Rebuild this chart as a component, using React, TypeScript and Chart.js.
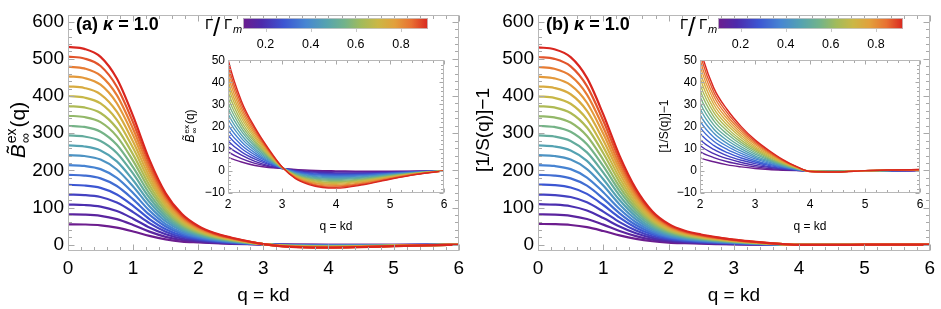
import React, { useEffect, useRef } from "react";
import { Chart, registerables } from "chart.js";

Chart.register(...registerables);

const FONT = '"Liberation Sans", Arial, Helvetica, sans-serif';

// wave number grid q = kd
const Q = [0, 0.25, 0.5, 0.75, 1, 1.25, 1.5, 1.75, 2, 2.25, 2.5, 2.75, 3, 3.25, 3.5, 3.75, 4, 4.5, 5, 5.5, 6];

// coupling ratios Γ/Γm of the 19 curves (colour order)
const GAMMA_RATIO = [0.1, 0.15, 0.2, 0.25, 0.3, 0.35, 0.4, 0.45, 0.5, 0.55, 0.6, 0.65, 0.7, 0.75, 0.8, 0.85, 0.9, 0.95, 1.0];

// Panel (a): bridge function B~ex_inf(q)
const A_G00 = [55, 54.5, 52.3, 46.2, 35.8, 23.7, 14.3, 8.5, 6.1, 4.0, 2.4, 1.5, 1.1, 0.6, 0.3, 0.1, 0, -0.2, -0.2, -0.1, 0];
const A_G01 = [82, 81.2, 77.9, 68.9, 53.3, 35.3, 21.3, 12.7, 8.6, 5.5, 3.4, 2.0, 1.1, 0.4, -0.1, -0.3, -0.4, -0.5, -0.4, -0.2, 0];
const A_G02 = [108, 106.9, 102.6, 90.7, 70.2, 46.4, 28.1, 16.7, 11.0, 7.1, 4.3, 2.4, 1.2, 0.1, -0.4, -0.7, -0.9, -0.9, -0.6, -0.3, 0];
const A_G03 = [135, 133.7, 128.3, 113.4, 87.8, 58.1, 35.1, 20.9, 13.5, 8.6, 5.3, 2.9, 1.2, -0.1, -0.8, -1.2, -1.3, -1.2, -0.8, -0.4, 0];
const A_G04 = [161, 159.4, 153.0, 135.2, 104.7, 69.2, 41.9, 25.0, 16.0, 10.1, 6.2, 3.4, 1.3, -0.3, -1.2, -1.6, -1.7, -1.6, -1.0, -0.4, 0];
const A_G05 = [188, 186.1, 178.6, 157.9, 122.2, 80.8, 48.9, 29.1, 18.4, 11.6, 7.2, 3.9, 1.3, -0.5, -1.5, -2.0, -2.2, -1.9, -1.2, -0.5, 0];
const A_G06 = [214, 211.9, 203.3, 179.8, 139.1, 92.0, 55.6, 33.2, 20.9, 13.2, 8.1, 4.3, 1.3, -0.8, -1.9, -2.4, -2.6, -2.2, -1.4, -0.6, 0];
const A_G07 = [241, 238.6, 229.0, 202.4, 156.7, 103.6, 62.7, 37.4, 23.4, 14.7, 9.1, 4.8, 1.4, -1.0, -2.2, -2.9, -3.0, -2.6, -1.6, -0.7, 0];
const A_G08 = [267, 264.3, 253.7, 224.3, 173.6, 114.8, 69.4, 41.4, 25.8, 16.2, 10.0, 5.3, 1.4, -1.2, -2.6, -3.3, -3.5, -2.9, -1.8, -0.8, 0];
const A_G09 = [294, 291.1, 279.3, 247.0, 191.1, 126.4, 76.4, 45.6, 28.3, 17.8, 11.0, 5.7, 1.4, -1.5, -3.0, -3.7, -3.9, -3.3, -2.0, -0.9, 0];
const A_G10 = [320, 316.8, 304.0, 268.8, 208.0, 137.6, 83.2, 49.6, 30.8, 19.3, 11.9, 6.2, 1.5, -1.7, -3.3, -4.1, -4.3, -3.6, -2.2, -0.9, 0];
const A_G11 = [347, 343.5, 329.7, 291.5, 225.6, 149.2, 90.2, 53.8, 33.2, 20.8, 12.9, 6.7, 1.5, -1.9, -3.7, -4.5, -4.8, -3.9, -2.4, -1.0, 0];
const A_G12 = [373, 369.3, 354.4, 313.3, 242.5, 160.4, 97.0, 57.8, 35.7, 22.3, 13.8, 7.2, 1.6, -2.1, -4.0, -5.0, -5.2, -4.3, -2.6, -1.1, 0];
const A_G13 = [400, 396.0, 380.0, 336.0, 260.0, 172.0, 104.0, 62.0, 38.2, 23.9, 14.8, 7.6, 1.6, -2.4, -4.4, -5.4, -5.6, -4.6, -2.8, -1.2, 0];
const A_G14 = [426, 421.7, 404.7, 357.8, 276.9, 183.2, 110.8, 66.0, 40.6, 25.4, 15.7, 8.1, 1.6, -2.6, -4.8, -5.8, -6.1, -4.9, -3.0, -1.3, 0];
const A_G15 = [453, 448.5, 430.4, 380.5, 294.5, 194.8, 117.8, 70.2, 43.1, 26.9, 16.7, 8.6, 1.7, -2.8, -5.1, -6.2, -6.5, -5.3, -3.2, -1.4, 0];
const A_G16 = [479, 474.2, 455.0, 402.4, 311.4, 206.0, 124.5, 74.2, 45.6, 28.4, 17.6, 9.1, 1.7, -3.0, -5.5, -6.7, -6.9, -5.6, -3.4, -1.4, 0];
const A_G17 = [506, 500.9, 480.7, 425.0, 328.9, 217.6, 131.6, 78.4, 48.0, 30.0, 18.6, 9.5, 1.8, -3.3, -5.8, -7.1, -7.4, -6.0, -3.6, -1.5, 0];
const A_G18 = [532, 526.7, 505.4, 446.9, 345.8, 228.8, 138.3, 82.5, 50.5, 31.5, 19.5, 10.0, 1.8, -3.5, -6.2, -7.5, -7.8, -6.3, -3.8, -1.6, 0];

// Panel (b): [1/S(q)] - 1
const B_G00 = [56, 55.4, 53.2, 47.3, 37.0, 25.2, 15.8, 9.5, 5.9, 4.1, 2.7, 1.8, 1.1, 0.6, 0.3, 0.1, 0, 0, 0, 0, 0.1];
const B_G01 = [82, 81.2, 77.9, 69.3, 54.1, 36.9, 23.2, 13.9, 8.7, 6.0, 4.1, 2.8, 1.8, 1.1, 0.6, 0.2, 0, 0, 0, 0, 0.1];
const B_G02 = [109, 107.9, 103.6, 92.1, 71.9, 49.1, 30.8, 18.5, 11.5, 7.8, 5.5, 3.8, 2.5, 1.6, 0.8, 0.3, 0, -0.1, 0, 0, 0.2];
const B_G03 = [135, 133.7, 128.3, 114.1, 89.1, 60.8, 38.2, 23.0, 14.2, 9.7, 6.8, 4.8, 3.3, 2.0, 1.1, 0.4, -0.1, -0.1, 0, 0.1, 0.2];
const B_G04 = [162, 160.4, 153.9, 136.9, 106.9, 72.9, 45.8, 27.5, 17.0, 11.5, 8.2, 5.8, 4.0, 2.5, 1.4, 0.5, -0.1, -0.1, 0, 0.1, 0.2];
const B_G05 = [188, 186.1, 178.6, 158.9, 124.1, 84.6, 53.2, 32.0, 19.8, 13.4, 9.6, 6.9, 4.7, 3.0, 1.7, 0.6, -0.1, -0.1, 0, 0.1, 0.2];
const B_G06 = [214, 211.9, 203.3, 180.8, 141.2, 96.3, 60.6, 36.4, 22.6, 15.2, 11.0, 7.9, 5.4, 3.5, 1.9, 0.7, -0.1, -0.2, 0, 0.1, 0.3];
const B_G07 = [241, 238.6, 229.0, 203.6, 159.1, 108.5, 68.2, 41.0, 25.4, 17.1, 12.3, 8.9, 6.1, 4.0, 2.2, 0.8, -0.1, -0.2, 0, 0.2, 0.3];
const B_G08 = [267, 264.3, 253.7, 225.6, 176.2, 120.2, 75.6, 45.4, 28.2, 18.9, 13.7, 9.9, 6.8, 4.5, 2.5, 0.9, -0.1, -0.2, 0, 0.2, 0.3];
const B_G09 = [294, 291.1, 279.3, 248.4, 194.0, 132.3, 83.2, 50.0, 30.9, 20.8, 15.1, 10.9, 7.6, 5.0, 2.7, 1.1, -0.2, -0.3, 0, 0.2, 0.4];
const B_G10 = [320, 316.8, 304.0, 270.4, 211.2, 144.0, 90.6, 54.4, 33.7, 22.7, 16.5, 11.9, 8.3, 5.4, 3.0, 1.2, -0.2, -0.3, 0.1, 0.2, 0.4];
const B_G11 = [346, 342.5, 328.7, 292.4, 228.4, 155.7, 97.9, 58.8, 36.5, 24.5, 17.9, 12.9, 9.0, 5.9, 3.3, 1.3, -0.2, -0.3, 0.1, 0.2, 0.4];
const B_G12 = [373, 369.3, 354.4, 315.2, 246.2, 167.9, 105.6, 63.4, 39.3, 26.4, 19.2, 13.9, 9.7, 6.4, 3.6, 1.4, -0.2, -0.3, 0.1, 0.3, 0.4];
const B_G13 = [399, 395.0, 379.1, 337.2, 263.3, 179.6, 112.9, 67.8, 42.1, 28.2, 20.6, 15.0, 10.4, 6.9, 3.8, 1.5, -0.2, -0.4, 0.1, 0.3, 0.5];
const B_G14 = [426, 421.7, 404.7, 360.0, 281.2, 191.7, 120.6, 72.4, 44.9, 30.1, 22.0, 16.0, 11.1, 7.4, 4.1, 1.6, -0.2, -0.4, 0.1, 0.3, 0.5];
const B_G15 = [452, 447.5, 429.4, 381.9, 298.3, 203.4, 127.9, 76.8, 47.6, 31.9, 23.4, 17.0, 11.9, 7.9, 4.4, 1.7, -0.2, -0.4, 0.1, 0.3, 0.5];
const B_G16 = [478, 473.2, 454.1, 403.9, 315.5, 215.1, 135.3, 81.3, 50.4, 33.8, 24.7, 18.0, 12.6, 8.3, 4.7, 1.8, -0.3, -0.4, 0.1, 0.4, 0.5];
const B_G17 = [505, 500.0, 479.8, 426.7, 333.3, 227.3, 142.9, 85.9, 53.2, 35.6, 26.1, 19.0, 13.3, 8.8, 4.9, 1.9, -0.3, -0.5, 0.1, 0.4, 0.6];
const B_G18 = [531, 525.7, 504.5, 448.7, 350.5, 239.0, 150.3, 90.3, 56.0, 37.5, 27.5, 20.0, 14.0, 9.3, 5.2, 2.0, -0.3, -0.5, 0.1, 0.4, 0.6];

const PANEL_A = [A_G00, A_G01, A_G02, A_G03, A_G04, A_G05, A_G06, A_G07, A_G08, A_G09, A_G10, A_G11, A_G12, A_G13, A_G14, A_G15, A_G16, A_G17, A_G18];
const PANEL_B = [B_G00, B_G01, B_G02, B_G03, B_G04, B_G05, B_G06, B_G07, B_G08, B_G09, B_G10, B_G11, B_G12, B_G13, B_G14, B_G15, B_G16, B_G17, B_G18];

const MAIN_X_TICKS = [0, 1, 2, 3, 4, 5, 6];
const MAIN_Y_TICKS = [0, 100, 200, 300, 400, 500, 600];
const INSET_X_TICKS = [2, 3, 4, 5, 6];
const INSET_Y_TICKS = [-10, 0, 10, 20, 30, 40, 50];
const CBAR_TICKS = [0.2, 0.4, 0.6, 0.8];
const CBAR_MIN = 0.1;
const CBAR_MAX = 0.92;

const COLOR_STOPS: [number, string][] = [
  [0, "#6c1d8e"],
  [0.1, "#4d2aab"],
  [0.22, "#3c55d2"],
  [0.34, "#4786d2"],
  [0.45, "#55a3b0"],
  [0.55, "#72b38a"],
  [0.64, "#a2bb5a"],
  [0.73, "#cbb745"],
  [0.82, "#e2a03c"],
  [0.91, "#e87132"],
  [1, "#d9261f"],
];

function hexRgb(h: string) {
  return [parseInt(h.slice(1, 3), 16), parseInt(h.slice(3, 5), 16), parseInt(h.slice(5, 7), 16)];
}
function colorAt(t: number) {
  for (let i = 1; i < COLOR_STOPS.length; i++) {
    const [t1, c1] = COLOR_STOPS[i];
    const [t0, c0] = COLOR_STOPS[i - 1];
    if (t <= t1) {
      const f = (t - t0) / (t1 - t0);
      const a = hexRgb(c0), b = hexRgb(c1);
      return `rgb(${a.map((v, j) => Math.round(v + (b[j] - v) * f)).join(",")})`;
    }
  }
  return COLOR_STOPS[COLOR_STOPS.length - 1][1];
}

function fmt(v: number) {
  return v < 0 ? "\u2212" + Math.abs(v) : String(v);
}

function minorValues(min: number, max: number, step: number, majors: number[]) {
  const out: number[] = [];
  const start = Math.ceil(min / step - 1e-9);
  for (let i = start; i * step <= max + 1e-9; i++) {
    const v = i * step;
    if (!majors.some((m) => Math.abs(m - v) < step / 10)) out.push(v);
  }
  return out;
}

function framePlugin(id: string, f: any) {
  return {
    id,
    afterDatasetsDraw(chart: any) {
      const { ctx, chartArea: a } = chart;
      const sx = chart.scales.x, sy = chart.scales.y;
      const L = Math.round(a.left) + 0.5, R = Math.round(a.right) - 0.5;
      const T = Math.round(a.top) + 0.5, B = Math.round(a.bottom) - 0.5;
      ctx.save();
      ctx.lineWidth = 1;
      ctx.strokeStyle = f.tickColor;
      ctx.beginPath();
      const xs: [number, number][] = [
        ...f.xTicks.map((v: number) => [v, f.major] as [number, number]),
        ...minorValues(sx.min, sx.max, f.xMinor, f.xTicks).map((v) => [v, f.minor] as [number, number]),
      ];
      xs.forEach(([v, len]) => {
        const p = Math.round(sx.getPixelForValue(v)) + 0.5;
        ctx.moveTo(p, B); ctx.lineTo(p, B - len);
        ctx.moveTo(p, T); ctx.lineTo(p, T + len);
      });
      const ys: [number, number][] = [
        ...f.yTicks.map((v: number) => [v, f.major] as [number, number]),
        ...minorValues(sy.min, sy.max, f.yMinor, f.yTicks).map((v) => [v, f.minor] as [number, number]),
      ];
      ys.forEach(([v, len]) => {
        const p = Math.round(sy.getPixelForValue(v)) + 0.5;
        ctx.moveTo(L, p); ctx.lineTo(L + len, p);
        ctx.moveTo(R, p); ctx.lineTo(R - len, p);
      });
      ctx.stroke();
      ctx.strokeStyle = f.frameColor;
      ctx.strokeRect(L, T, R - L, B - T);
      ctx.restore();
    },
  };
}

function textPlugin(id: string, draw: (ctx: CanvasRenderingContext2D, a: any) => void) {
  return {
    id,
    afterDraw(chart: any) {
      const ctx = chart.ctx;
      ctx.save();
      draw(ctx, chart.chartArea);
      ctx.restore();
    },
  };
}

function drawBTitle(ctx: CanvasRenderingContext2D, x: number, y: number, size: number) {
  ctx.save();
  ctx.translate(x, y);
  ctx.rotate(-Math.PI / 2);
  ctx.fillStyle = "#000";
  ctx.textBaseline = "alphabetic";
  ctx.textAlign = "left";
  const big = `${size}px ${FONT}`;
  const bigIt = `italic ${size}px ${FONT}`;
  const small = `${Math.round(size * 0.66)}px ${FONT}`;
  ctx.font = bigIt;
  const wB = ctx.measureText("B").width;
  ctx.font = big;
  const wQ = ctx.measureText("(q)").width;
  ctx.font = small;
  const wS = Math.max(ctx.measureText("ex").width, ctx.measureText("\u221e").width);
  const total = wB + 1 + wS + 1 + wQ;
  let cx = -total / 2;
  ctx.font = bigIt;
  ctx.fillText("B", cx, 0);
  ctx.font = big;
  const tw = ctx.measureText("\u02dc").width;
  ctx.fillText("\u02dc", cx + (wB - tw) / 2 + size * 0.08, -size * 0.2);
  cx += wB + 1;
  ctx.font = small;
  ctx.fillText("ex", cx, -size * 0.42);
  ctx.fillText("\u221e", cx, size * 0.22);
  cx += wS + 1;
  ctx.font = big;
  ctx.fillText("(q)", cx, 0);
  ctx.restore();
}

function drawRotText(ctx: CanvasRenderingContext2D, text: string, x: number, y: number, size: number) {
  ctx.save();
  ctx.translate(x, y);
  ctx.rotate(-Math.PI / 2);
  ctx.fillStyle = "#000";
  ctx.font = `${size}px ${FONT}`;
  ctx.textAlign = "center";
  ctx.textBaseline = "alphabetic";
  ctx.fillText(text, 0, 0);
  ctx.restore();
}

function drawPanelLabel(ctx: CanvasRenderingContext2D, letter: string, x: number, y: number) {
  ctx.fillStyle = "#000";
  ctx.textBaseline = "alphabetic";
  ctx.textAlign = "left";
  const size = 18;
  let cx = x;
  ctx.font = `bold ${size}px ${FONT}`;
  const p1 = `(${letter}) `;
  ctx.fillText(p1, cx, y);
  cx += ctx.measureText(p1).width;
  ctx.font = `italic bold ${size}px ${FONT}`;
  ctx.fillText("\u03ba", cx, y);
  cx += ctx.measureText("\u03ba").width;
  ctx.font = `bold ${size}px ${FONT}`;
  ctx.fillText(" = 1.0", cx, y);
}

type PlotSpec = {
  series: number[][];
  xMin: number; xMax: number; yMin: number; yMax: number;
  xTicks: number[]; yTicks: number[]; xMinor: number; yMinor: number;
  lineWidth: number; tickSize: number;
  pad: { left: number; right: number; top: number; bottom: number };
  yAxisW: number; xAxisH: number; xTickPad: number; yTickPad: number;
  major: number; minor: number; clip: any;
  draw: (ctx: CanvasRenderingContext2D, a: any) => void;
  name: string;
};

function makePlot(canvas: HTMLCanvasElement, s: PlotSpec) {
  const n = s.series.length;
  const datasets = s.series
    .map((ys, k) => ({
      label: "\u0393/\u0393m = " + GAMMA_RATIO[k],
      data: Q.map((x, i) => ({ x, y: ys[i] })),
      borderColor: colorAt(k / (n - 1)),
      backgroundColor: colorAt(k / (n - 1)),
      borderWidth: s.lineWidth,
      pointRadius: 0,
      cubicInterpolationMode: "monotone",
      fill: false,
      clip: s.clip,
    }))
    .reverse();
  return new Chart(canvas, {
    type: "line",
    data: { datasets } as any,
    options: {
      animation: false,
      responsive: false,
      maintainAspectRatio: false,
      devicePixelRatio: 1,
      events: [],
      layout: { padding: s.pad },
      plugins: { legend: { display: false }, tooltip: { enabled: false } },
      scales: {
        x: {
          type: "linear",
          min: s.xMin,
          max: s.xMax,
          afterBuildTicks: (sc: any) => { sc.ticks = s.xTicks.map((v) => ({ value: v })); },
          afterFit: (sc: any) => { sc.height = s.xAxisH; },
          grid: { display: false, drawTicks: false },
          border: { display: false },
          ticks: { font: { family: FONT, size: s.tickSize }, color: "#000", padding: s.xTickPad, maxRotation: 0, autoSkip: false, callback: (v: any) => fmt(v) },
        },
        y: {
          type: "linear",
          min: s.yMin,
          max: s.yMax,
          afterBuildTicks: (sc: any) => { sc.ticks = s.yTicks.map((v) => ({ value: v })); },
          afterFit: (sc: any) => { sc.width = s.yAxisW; },
          grid: { display: false, drawTicks: false },
          border: { display: false },
          ticks: { font: { family: FONT, size: s.tickSize }, color: "#000", padding: s.yTickPad, autoSkip: false, callback: (v: any) => fmt(v) },
        },
      },
    } as any,
    plugins: [
      framePlugin("frame_" + s.name, { xTicks: s.xTicks, yTicks: s.yTicks, xMinor: s.xMinor, yMinor: s.yMinor, major: s.major, minor: s.minor, tickColor: "#a8a8a8", frameColor: "#b8b8b8" }),
      textPlugin("text_" + s.name, s.draw),
    ] as any,
  });
}

function makeColorbar(canvas: HTMLCanvasElement, name: string) {
  return new Chart(canvas, {
    type: "scatter",
    data: { datasets: [] },
    options: {
      animation: false,
      responsive: false,
      maintainAspectRatio: false,
      devicePixelRatio: 1,
      events: [],
      layout: { padding: { left: 45, right: 10, top: 18, bottom: 0 } },
      plugins: { legend: { display: false }, tooltip: { enabled: false } },
      scales: {
        x: {
          type: "linear",
          min: CBAR_MIN,
          max: CBAR_MAX,
          afterBuildTicks: (sc: any) => { sc.ticks = CBAR_TICKS.map((v) => ({ value: v })); },
          afterFit: (sc: any) => { sc.height = 27; },
          grid: { display: false, drawTicks: false },
          border: { display: false },
          ticks: { font: { family: FONT, size: 12.5 }, color: "#000", padding: 8, maxRotation: 0, autoSkip: false, callback: (v: any) => Number(v).toFixed(1) },
        },
        y: { display: false, min: 0, max: 1 },
      },
    } as any,
    plugins: [
      {
        id: "cbar_" + name,
        afterDraw(chart: any) {
          const { ctx, chartArea: a } = chart;
          ctx.save();
          const g = ctx.createLinearGradient(a.left, 0, a.right, 0);
          COLOR_STOPS.forEach(([t, c]) => g.addColorStop(t, c));
          ctx.fillStyle = g;
          ctx.fillRect(a.left, a.top, a.right - a.left, a.bottom - a.top);
          ctx.strokeStyle = "rgba(200,200,200,0.8)";
          ctx.lineWidth = 1;
          ctx.strokeRect(a.left + 0.5, a.top + 0.5, a.right - a.left - 1, a.bottom - a.top - 1);
          ctx.strokeStyle = "#c8c8c8";
          ctx.beginPath();
          CBAR_TICKS.forEach((v) => {
            const p = Math.round(chart.scales.x.getPixelForValue(v)) + 0.5;
            ctx.moveTo(p, a.bottom);
            ctx.lineTo(p, a.bottom + 3);
          });
          ctx.stroke();
          // label Γ / Γm
          ctx.fillStyle = "#000";
          ctx.textBaseline = "alphabetic";
          ctx.textAlign = "left";
          const L = a.left;
          ctx.font = `15px ${FONT}`;
          ctx.fillText("\u0393", L - 38, 29);
          ctx.font = `26px ${FONT}`;
          ctx.fillText("/", L - 30, 36);
          ctx.font = `15px ${FONT}`;
          ctx.fillText("\u0393", L - 19, 29);
          ctx.font = `italic 11px ${FONT}`;
          ctx.fillText("m", L - 10, 33);
          ctx.restore();
        },
      },
    ] as any,
  });
}

const MAIN_Y_MIN = -16.8;
const MAIN_Y_MAX = 616.8;

export default function App() {
  const mainA = useRef<HTMLCanvasElement>(null);
  const mainB = useRef<HTMLCanvasElement>(null);
  const insetA = useRef<HTMLCanvasElement>(null);
  const insetB = useRef<HTMLCanvasElement>(null);
  const cbarA = useRef<HTMLCanvasElement>(null);
  const cbarB = useRef<HTMLCanvasElement>(null);

  useEffect(() => {
    const charts: Chart[] = [];
    const mainCommon = {
      xMin: 0, xMax: 6, yMin: MAIN_Y_MIN, yMax: MAIN_Y_MAX,
      xTicks: MAIN_X_TICKS, yTicks: MAIN_Y_TICKS, xMinor: 0.2, yMinor: 20,
      lineWidth: 2.2, tickSize: 19,
      yAxisW: 68, xAxisH: 58, xTickPad: 6, yTickPad: 4,
      major: 6, minor: 3.5, clip: undefined,
    };
    const insetCommon = {
      xMin: 2, xMax: 6, yMin: -10, yMax: 50,
      xTicks: INSET_X_TICKS, yTicks: INSET_Y_TICKS, xMinor: 0.2, yMinor: 2,
      lineWidth: 1.4, tickSize: 12,
      yAxisW: 50, xAxisH: 47, xTickPad: 4, yTickPad: 3,
      major: 4, minor: 2.5, clip: 0,
    };
    charts.push(
      makePlot(mainA.current!, {
        ...mainCommon, name: "mainA", series: PANEL_A,
        pad: { left: 0, right: 10, top: 6, bottom: 0 },
        draw: (ctx, a) => {
          ctx.fillStyle = "#000";
          ctx.font = `19px ${FONT}`;
          ctx.textAlign = "center";
          ctx.textBaseline = "middle";
          ctx.fillText("q = kd", (a.left + a.right) / 2, 296);
          drawBTitle(ctx, 25, 130, 21);
          drawPanelLabel(ctx, "a", 76, 30);
        },
      })
    );
    charts.push(
      makePlot(mainB.current!, {
        ...mainCommon, name: "mainB", series: PANEL_B,
        pad: { left: 0, right: 5, top: 6, bottom: 0 },
        draw: (ctx, a) => {
          ctx.fillStyle = "#000";
          ctx.font = `19px ${FONT}`;
          ctx.textAlign = "center";
          ctx.textBaseline = "middle";
          ctx.fillText("q = kd", (a.left + a.right) / 2, 296);
          drawRotText(ctx, "[1/S(q)]\u22121", 19, 130, 19);
          drawPanelLabel(ctx, "b", 76, 30);
        },
      })
    );
    charts.push(
      makePlot(insetA.current!, {
        ...insetCommon, name: "insetA", series: PANEL_A,
        pad: { left: 0, right: 10, top: 9, bottom: 0 },
        draw: (ctx, a) => {
          ctx.fillStyle = "#000";
          ctx.font = `12px ${FONT}`;
          ctx.textAlign = "center";
          ctx.textBaseline = "middle";
          ctx.fillText("q = kd", (a.left + a.right) / 2, 177);
          drawBTitle(ctx, 16, 76, 12);
        },
      })
    );
    charts.push(
      makePlot(insetB.current!, {
        ...insetCommon, name: "insetB", series: PANEL_B,
        pad: { left: 0, right: 10, top: 8, bottom: 0 },
        draw: (ctx, a) => {
          ctx.fillStyle = "#000";
          ctx.font = `12px ${FONT}`;
          ctx.textAlign = "center";
          ctx.textBaseline = "middle";
          ctx.fillText("q = kd", (a.left + a.right) / 2, 177);
          drawRotText(ctx, "[1/S(q)]\u22121", 18, 76, 12);
        },
      })
    );
    charts.push(makeColorbar(cbarA.current!, "a"));
    charts.push(makeColorbar(cbarB.current!, "b"));
    return () => charts.forEach((c) => c.destroy());
  }, []);

  const pos = (left: number, top: number, w: number, h: number): React.CSSProperties => ({
    position: "absolute", left, top, width: w, height: h, display: "block",
  });

  return (
    <div style={{ position: "absolute", left: 0, top: 0, width: 941, height: 309, background: "#fff", overflow: "hidden" }}>
      <canvas ref={mainA} width={470} height={309} style={pos(0, 0, 470, 309)} />
      <canvas ref={mainB} width={471} height={309} style={pos(470, 0, 471, 309)} />
      <canvas ref={insetA} width={276} height={190} style={pos(178, 50, 276, 190)} />
      <canvas ref={insetB} width={280} height={190} style={pos(650, 50, 280, 190)} />
      <canvas ref={cbarA} width={240} height={56} style={pos(198, 0, 240, 56)} />
      <canvas ref={cbarB} width={240} height={56} style={pos(673, 0, 240, 56)} />
    </div>
  );
}
